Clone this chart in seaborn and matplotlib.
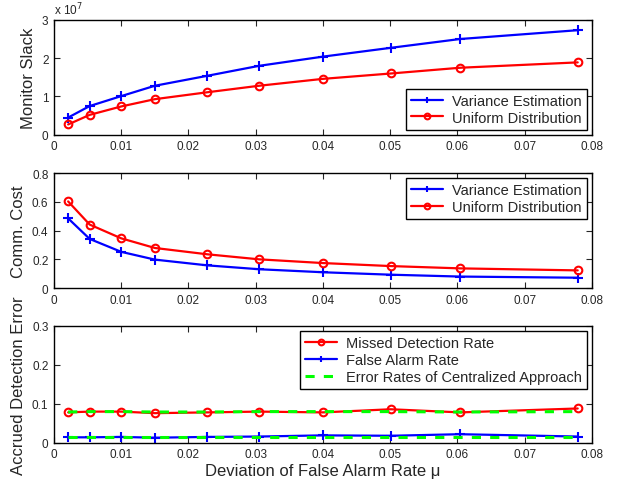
import numpy as np
import pandas as pd
import matplotlib
matplotlib.use("Agg")
import matplotlib.pyplot as plt
import seaborn as sns
from matplotlib.ticker import FuncFormatter

# deviation of false alarm rate (x axis, shared by all panels)
mu = [0.0021, 0.0053, 0.0100, 0.0150, 0.0228, 0.0305, 0.0400, 0.0501, 0.0604, 0.0779]

# panel 1: monitor slack
slack_variance = [0.45e7, 0.75e7, 1.01e7, 1.28e7, 1.54e7, 1.80e7, 2.04e7, 2.27e7, 2.50e7, 2.73e7]
slack_uniform = [0.27e7, 0.52e7, 0.74e7, 0.93e7, 1.11e7, 1.28e7, 1.46e7, 1.60e7, 1.75e7, 1.89e7]

# panel 2: communication cost
cost_variance = [0.485, 0.342, 0.252, 0.198, 0.158, 0.131, 0.110, 0.093, 0.080, 0.072]
cost_uniform = [0.603, 0.442, 0.346, 0.279, 0.235, 0.200, 0.174, 0.153, 0.137, 0.123]

# panel 3: detection errors
missed_rate = [0.078, 0.080, 0.080, 0.076, 0.078, 0.080, 0.078, 0.086, 0.078, 0.088]
false_alarm_rate = [0.014, 0.014, 0.015, 0.013, 0.015, 0.016, 0.019, 0.018, 0.022, 0.016]
central_missed = [0.079, 0.080, 0.080, 0.079, 0.079, 0.080, 0.080, 0.080, 0.079, 0.080]
central_false = [0.015, 0.015, 0.015, 0.015, 0.015, 0.015, 0.015, 0.015, 0.015, 0.015]

xticks = [0, 0.01, 0.02, 0.03, 0.04, 0.05, 0.06, 0.07, 0.08]
xtick_labels = ["0", "0.01", "0.02", "0.03", "0.04", "0.05", "0.06", "0.07", "0.08"]

sns.set_style("ticks")
plt.rcParams['font.family'] = ['Liberation Sans', 'DejaVu Sans']
plt.rcParams['xtick.direction'] = 'in'
plt.rcParams['ytick.direction'] = 'in'
plt.rcParams['axes.linewidth'] = 1.0

df = pd.DataFrame({
    'mu': mu,
    'slack_var': slack_variance, 'slack_uni': slack_uniform,
    'cost_var': cost_variance, 'cost_uni': cost_uniform,
    'missed': missed_rate, 'false': false_alarm_rate,
    'c_missed': central_missed, 'c_false': central_false,
})

fig = plt.figure(figsize=(6.21, 4.85), dpi=100)
left, width = 0.087, 0.866
ax1 = fig.add_axes([left, 0.720, width, 0.237])
ax2 = fig.add_axes([left, 0.404, width, 0.237])
ax3 = fig.add_axes([left, 0.085, width, 0.241])

BLUE = (0, 0, 1)
RED = (1, 0, 0)
GREEN = (0, 1, 0)
plus_kw = dict(marker='+', markersize=6.5, markeredgewidth=1.5, markeredgecolor=BLUE)
circ_kw = dict(marker='o', markersize=5.5, markerfacecolor='none',
               markeredgewidth=1.5, markeredgecolor=RED)
leg_kw = dict(fontsize=10.5, labelspacing=0.2, handlelength=2.2,
              borderaxespad=0.35, handletextpad=0.6, borderpad=0.35,
              markerscale=0.75)

# panel 1
sns.lineplot(data=df, x='mu', y='slack_var', ax=ax1, color=BLUE, lw=1.6,
             label='Variance Estimation', **plus_kw)
sns.lineplot(data=df, x='mu', y='slack_uni', ax=ax1, color=RED, lw=1.6,
             label='Uniform Distribution', **circ_kw)
ax1.set_ylim(0, 3e7)
ax1.set_yticks([0, 1e7, 2e7, 3e7])
ax1.yaxis.set_major_formatter(FuncFormatter(lambda v, p: f'{v / 1e7:g}'))
ax1.text(0.0, 1.02, r'x 10$^{7}$', transform=ax1.transAxes, fontsize=8.5,
         ha='left', va='bottom')
ax1.set_ylabel('Monitor Slack', fontsize=12)
ax1.legend(loc='lower right', **leg_kw)

# panel 2
sns.lineplot(data=df, x='mu', y='cost_var', ax=ax2, color=BLUE, lw=1.6,
             label='Variance Estimation', **plus_kw)
sns.lineplot(data=df, x='mu', y='cost_uni', ax=ax2, color=RED, lw=1.6,
             label='Uniform Distribution', **circ_kw)
ax2.set_ylim(0, 0.8)
ax2.set_yticks([0, 0.2, 0.4, 0.6, 0.8])
ax2.yaxis.set_major_formatter(FuncFormatter(lambda v, p: f'{v:g}'))
ax2.set_ylabel('Comm. Cost', fontsize=12)
ax2.legend(loc='upper right', **leg_kw)

# panel 3
sns.lineplot(data=df, x='mu', y='missed', ax=ax3, color=RED, lw=1.6,
             label='Missed Detection Rate', **circ_kw)
sns.lineplot(data=df, x='mu', y='false', ax=ax3, color=BLUE, lw=1.6,
             label='False Alarm Rate', **plus_kw)
sns.lineplot(data=df, x='mu', y='c_missed', ax=ax3, color=GREEN, lw=2.2,
             linestyle=(0, (3, 3)), label='Error Rates of Centralized Approach')
sns.lineplot(data=df, x='mu', y='c_false', ax=ax3, color=GREEN, lw=2.2,
             linestyle=(0, (3, 3)), label='_nolegend_')
ax3.set_ylim(0, 0.3)
ax3.set_yticks([0, 0.1, 0.2, 0.3])
ax3.yaxis.set_major_formatter(FuncFormatter(lambda v, p: f'{v:g}'))
ax3.set_ylabel('Accrued Detection Error', fontsize=12)
ax3.set_xlabel('Deviation of False Alarm Rate \u03bc', fontsize=12, labelpad=2)
ax3.legend(loc='upper right', **leg_kw)

for ax in (ax1, ax2, ax3):
    ax.set_xlim(0, 0.08)
    ax.set_xticks(xticks)
    ax.set_xticklabels(xtick_labels)
    if ax is not ax3:
        ax.set_xlabel('')
    ax.tick_params(axis='both', labelsize=8.5, length=4, width=0.8,
                   top=True, right=True, pad=4)
    for s in ax.spines.values():
        s.set_visible(True)
        s.set_color('black')
    leg = ax.get_legend()
    frame = leg.get_frame()
    frame.set_edgecolor('black')
    frame.set_linewidth(1.0)
    frame.set_boxstyle('square', pad=0)
    frame.set_alpha(1)
    for h in leg.legend_handles:
        h.set_markeredgecolor(h.get_color())

fig.savefig('out.png', dpi=100)
